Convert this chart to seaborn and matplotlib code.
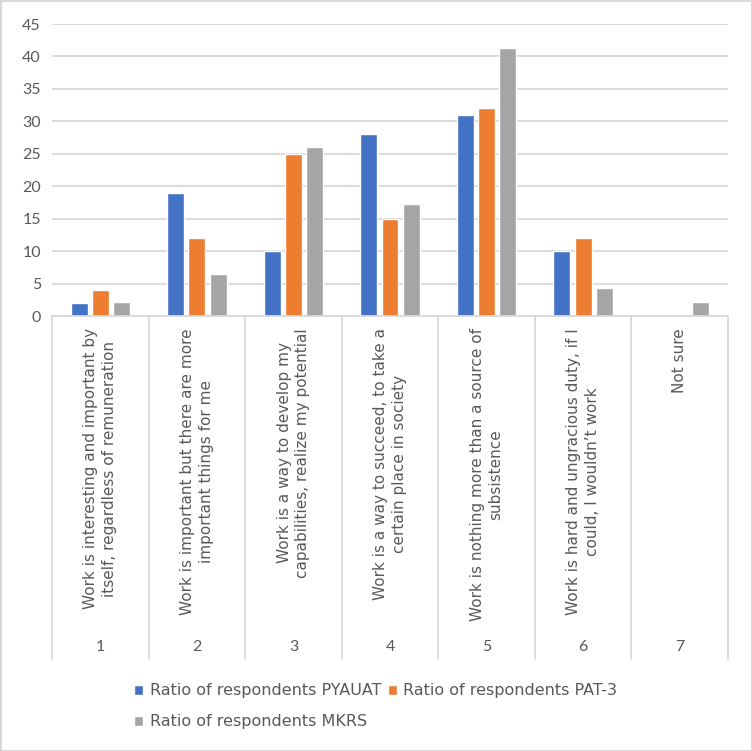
import numpy as np
import pandas as pd
import matplotlib
matplotlib.use("Agg")
import matplotlib.pyplot as plt
import seaborn as sns

# ======== DATA ========
item_ids = ["1", "2", "3", "4", "5", "6", "7"]
item_labels = [
    "Work is interesting and important by\nitself, regardless of remuneration",
    "Work is important but there are more\nimportant things for me",
    "Work is a way to develop my\ncapabilities, realize my potential",
    "Work is a way to succeed, to take a\ncertain place in society",
    "Work is nothing more than a source of\nsubsistence",
    "Work is hard and ungracious duty, if I\ncould, I wouldn\u2019t work",
    "Not sure",
]
series_names = [
    "Ratio of respondents PYAUAT",
    "Ratio of respondents PAT-3",
    "Ratio of respondents MKRS",
]
pyauat = [2, 19, 10, 28, 31, 10, 0]
pat3 = [4, 12, 25, 15, 32, 12, 0]
mkrs = [2.1, 6.5, 26, 17.3, 41.3, 4.3, 2.1]
colors = ["#4472C4", "#ED7D31", "#A5A5A5"]
y_ticks = list(range(0, 50, 5))

df = pd.DataFrame({
    "item": item_ids * 3,
    "value": pyauat + pat3 + mkrs,
    "series": [s for s in series_names for _ in item_ids],
})

# ======== STYLE ========
sns.set_theme(style="white")
plt.rcParams["font.family"] = ["Lato", "DejaVu Sans"]
wide_font = ["DejaVu Sans"]
text_color = "#595959"
line_color = "#D9D9D9"

W, H = 752, 751
fig = plt.figure(figsize=(W / 100, H / 100), dpi=100)
fig.patch.set_edgecolor(line_color)
fig.patch.set_linewidth(2)

x0, x1, y_top, y_zero = 52, 728, 24, 316
ax = fig.add_axes([x0 / W, 1 - y_zero / H, (x1 - x0) / W, (y_zero - y_top) / H])

sns.barplot(data=df, x="item", y="value", hue="series", order=item_ids,
            hue_order=series_names, palette=colors, width=0.66, gap=0.2,
            saturation=1, ax=ax)

ax.set_ylim(0, 45)
ax.set_xlim(-0.5, len(item_ids) - 0.5)
ax.set_yticks(y_ticks)
ax.set_yticklabels([str(t) for t in y_ticks], fontsize=11.5, color=text_color)
ax.tick_params(axis="y", length=0, pad=8)
ax.set_xticks([])
ax.set_xlabel("")
ax.set_ylabel("")
ax.yaxis.grid(True, color=line_color, linewidth=1.3)
ax.set_axisbelow(True)
for side in ["left", "right", "top"]:
    ax.spines[side].set_visible(False)
ax.spines["bottom"].set_color(line_color)
ax.spines["bottom"].set_linewidth(1.3)

# ======== MULTI-LEVEL CATEGORY AXIS ========
ph = y_zero - y_top
trans = ax.get_xaxis_transform()
sep_bottom = -(659 - y_zero) / ph
for b in np.arange(-0.5, len(item_ids), 1.0):
    ax.plot([b, b], [0, sep_bottom], transform=trans, color=line_color,
            linewidth=1.3, clip_on=False)
for i, (num, lab) in enumerate(zip(item_ids, item_labels)):
    ax.text(i, -(647 - y_zero) / ph, num, transform=trans, ha="center",
            va="center", fontsize=11.5, color=text_color)
    ax.text(i, -(328 - y_zero) / ph, lab, transform=trans, rotation=90,
            ha="center", va="top", multialignment="center", fontsize=11,
            color=text_color, linespacing=1.3, family=wide_font)

# ======== LEGEND ========
handles, labels = ax.get_legend_handles_labels()
ax.get_legend().remove()
order = [0, 2, 1]
fig.legend([handles[k] for k in order], [labels[k] for k in order],
           loc="upper left", bbox_to_anchor=(128 / W, 1 - 677 / H), ncol=2,
           frameon=False, prop={"family": wide_font, "size": 11.5},
           labelcolor=text_color, handlelength=0.55, handleheight=0.55,
           handletextpad=0.4, columnspacing=0.45, labelspacing=1.0,
           borderaxespad=0)

fig.savefig("out.png", dpi=100)
